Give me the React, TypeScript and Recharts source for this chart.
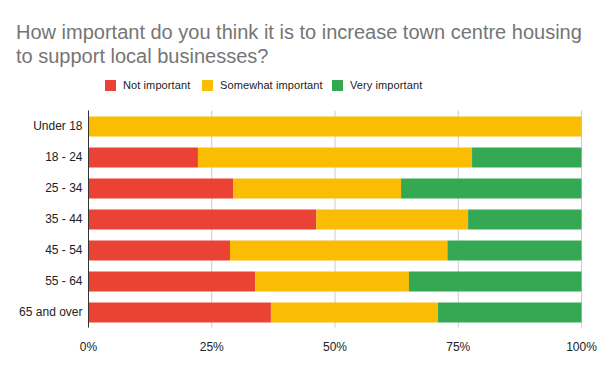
import { Bar, BarChart, CartesianGrid, XAxis, YAxis } from "recharts"

const groups = ["Under 18", "18 - 24", "25 - 34", "35 - 44", "45 - 54", "55 - 64", "65 and over"]
const notImportant = [0, 22.2, 29.4, 46.2, 28.7, 33.8, 37.0]
const somewhat = [100, 55.6, 34.0, 30.8, 44.1, 31.2, 33.9]
const very = [0, 22.2, 36.6, 23.0, 27.2, 35.0, 29.1]
const ticks = [0, 0.25, 0.5, 0.75, 1]

const series = [
  { key: "not", name: "Not important", color: "#ea4335", left: 105 },
  { key: "some", name: "Somewhat important", color: "#fbbc04", left: 202 },
  { key: "very", name: "Very important", color: "#34a853", left: 332 },
]

const data = groups.map((g, i) => ({ group: g, not: notImportant[i], some: somewhat[i], very: very[i] }))

const font = "Arial, 'Liberation Sans', sans-serif"

export default function App() {
  return (
    <div style={{ position: "absolute", left: 0, top: 0, width: 600, height: 371, background: "#fff", fontFamily: font }}>
      <div style={{ position: "absolute", left: 16, top: 20, fontSize: 20, lineHeight: "24px", color: "#757575" }}>
        How important do you think it is to increase town centre housing
        <br />
        to support local businesses?
      </div>
      {series.map((s) => (
        <div
          key={s.key}
          style={{ position: "absolute", left: s.left, top: 79, display: "flex", alignItems: "center", fontSize: 11, color: "#222", letterSpacing: 0.1 }}
        >
          <span style={{ width: 11, height: 11, background: s.color, display: "inline-block", marginRight: 7 }} />
          <span>{s.name}</span>
        </div>
      ))}
      <div style={{ position: "absolute", left: 0, top: 0 }}>
        <BarChart
          width={600}
          height={371}
          data={data}
          layout="vertical"
          stackOffset="expand"
          barSize={20}
          margin={{ top: 110.5, right: 18.5, bottom: 13.5, left: 0 }}
        >
          <CartesianGrid horizontal={false} stroke="#cccccc" />
          <XAxis
            type="number"
            domain={[0, 1]}
            ticks={ticks}
            tickFormatter={(v) => `${Math.round(v * 100)}%`}
            axisLine={false}
            tickLine={false}
            tickSize={0}
            tickMargin={15}
            height={30}
            tick={{ fill: "#222", fontSize: 12, fontFamily: font }}
          />
          <YAxis
            type="category"
            dataKey="group"
            width={88.5}
            axisLine={{ stroke: "#333" }}
            tickLine={false}
            tickSize={0}
            tickMargin={6}
            tick={{ fill: "#222", fontSize: 12, fontFamily: font }}
          />
          {series.map((s) => (
            <Bar key={s.key} dataKey={s.key} name={s.name} stackId="a" fill={s.color} isAnimationActive={false} />
          ))}
        </BarChart>
      </div>
    </div>
  )
}
